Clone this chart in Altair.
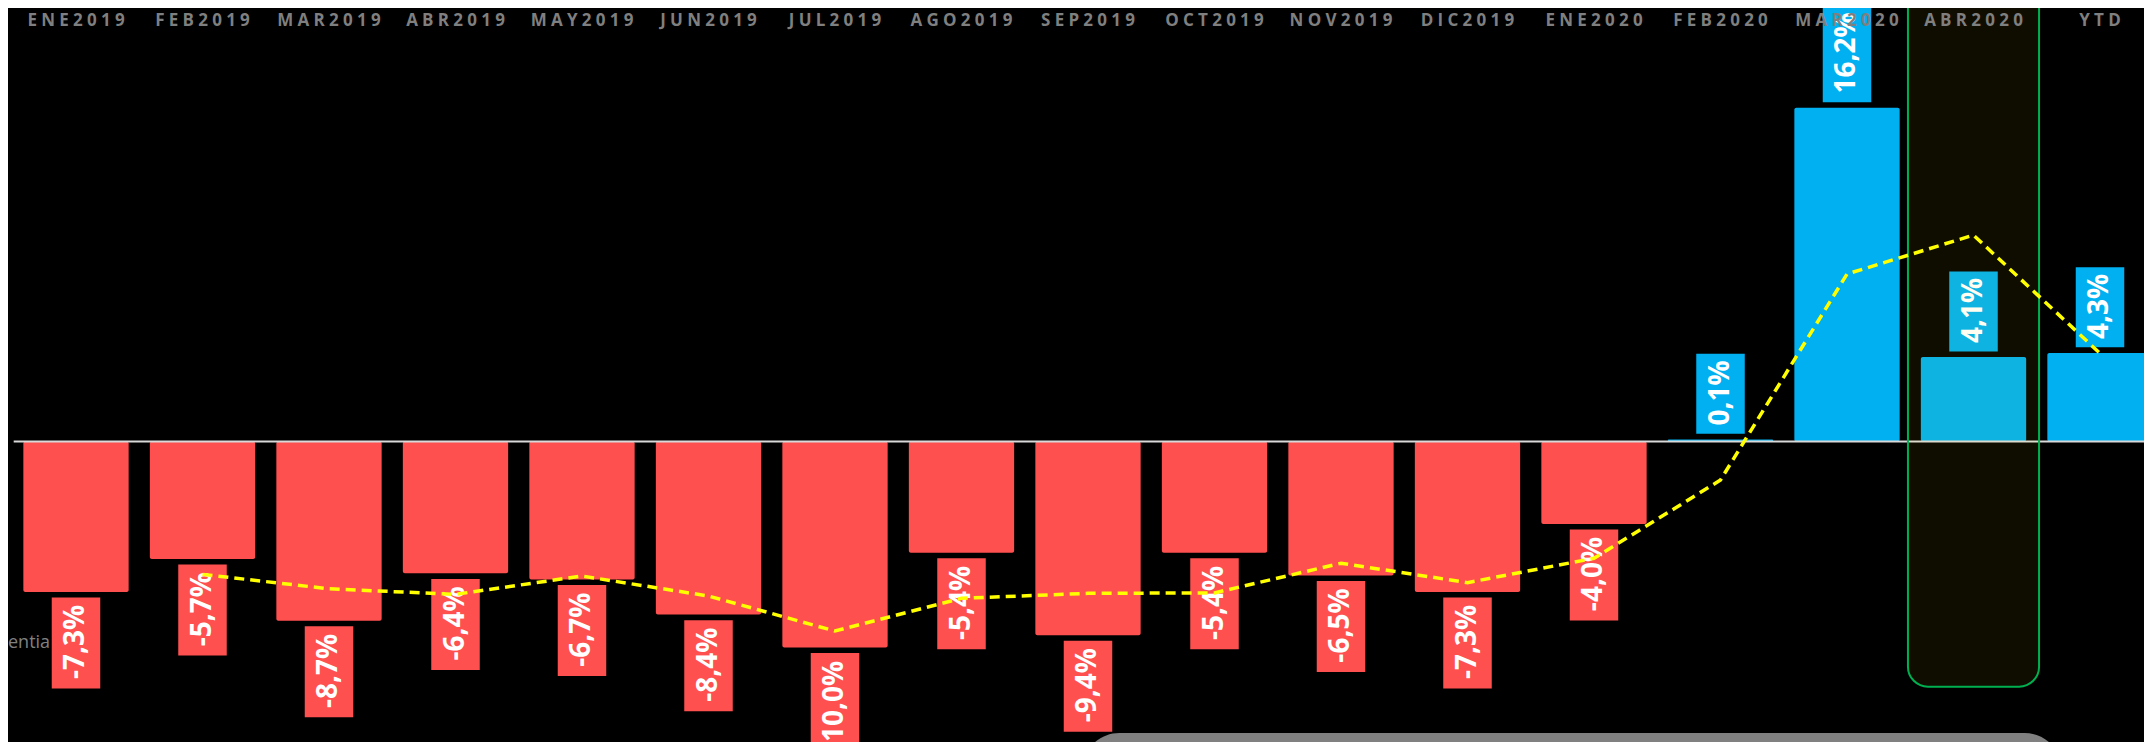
import altair as alt
import pandas as pd

# ---------------- data ----------------
months = ["ENE2019", "FEB2019", "MAR2019", "ABR2019", "MAY2019", "JUN2019",
          "JUL2019", "AGO2019", "SEP2019", "OCT2019", "NOV2019", "DIC2019",
          "ENE2020", "FEB2020", "MAR2020", "ABR2020", "YTD"]
values = [-7.3, -5.7, -8.7, -6.4, -6.7, -8.4, -10.0, -5.4, -9.4, -5.4, -6.5,
          -7.3, -4.0, 0.1, 16.2, 4.1, 4.3]
trend_months = months[1:]
trend_values = [-6.45, -7.15, -7.42, -6.53, -7.5, -9.2, -7.61, -7.37, -7.35,
                -5.91, -6.85, -5.67, -1.87, 8.13, 10.02, 4.28]
highlight_month = ["ABR2020"]
highlight_bottom = [-11.9]
legend_text = ["entia"]

# ---------------- layout ----------------
W, H = 2136, 734
K = 20.6            # pixels per percentage point
ZERO_Y = 433.5      # pixel row of the zero line
Y_MAX = ZERO_Y / K
Y_MIN = -(H - ZERO_Y) / K
GAP = 5.6
CHAR_W = {**{str(d): 16.5 for d in range(10)}, ",": 8, "-": 11, "%": 23}

RED, BLUE = "#ff5050", "#00b0f0"

labels = [f"{v:.1f}".replace(".", ",") + "%" for v in values]
rows = []
for m, v, lab in zip(months, values, labels):
    L = 16 + sum(CHAR_W[c] for c in lab)
    s = 1 if v >= 0 else -1
    rows.append({
        "month": m, "value": v, "label": lab,
        "spaced": "\u2005".join(m),
        "color": BLUE if v >= 0 else RED,
        "box_a": v + s * GAP / K,
        "box_b": v + s * (GAP + L) / K,
        "box_mid": v + s * (GAP + L / 2) / K,
        "zero": 0.0,
    })
df = pd.DataFrame(rows)
trend_df = pd.DataFrame({"month": trend_months, "trend": trend_values})
hl_df = pd.DataFrame({"month": highlight_month, "top": [30.0], "bottom": highlight_bottom})
deco_df = pd.DataFrame({"t": legend_text, "zero": [0.0]})

x_scale = alt.Scale(domain=months, range=[4.75, 2155.25],
                    paddingInner=0.1676, paddingOuter=0.0838)
y_scale = alt.Scale(domain=[Y_MIN, Y_MAX], nice=False, zero=False)
X = alt.X("month:N", scale=x_scale, axis=None)

bars = alt.Chart(df).mark_bar(cornerRadius=2).encode(
    x=X,
    y=alt.Y("value:Q", scale=y_scale, axis=None),
    y2="zero:Q",
    color=alt.Color("color:N", scale=None),
)

zero_rule = alt.Chart(deco_df).mark_rule(color="#d9d9d9", strokeWidth=2).encode(
    y=alt.Y("zero:Q", scale=y_scale, axis=None),
    x=alt.value(5.7), x2=alt.value(W),
)

boxes = alt.Chart(df).mark_bar(width=48.5).encode(
    x=X,
    y=alt.Y("box_a:Q", scale=y_scale, axis=None),
    y2="box_b:Q",
    color=alt.Color("color:N", scale=None),
)

box_text = alt.Chart(df).mark_text(
    angle=270, font="Open Sans", fontWeight="bold", fontSize=28,
    color="white", align="center", baseline="middle", dx=1,
).encode(
    x=X,
    y=alt.Y("box_mid:Q", scale=y_scale, axis=None),
    text="label:N",
)

highlight = alt.Chart(hl_df).mark_bar(
    width=alt.RelativeBandSize(1.245), cornerRadius=20,
    fill="#ffe600", fillOpacity=0.055, stroke="#00b050", strokeWidth=2,
).encode(
    x=X,
    y=alt.Y("top:Q", scale=y_scale, axis=None),
    y2="bottom:Q",
)

trend = alt.Chart(trend_df).mark_line(
    color="#ffff00", strokeWidth=3.5, strokeDash=[10, 6],
).encode(
    x=X,
    y=alt.Y("trend:Q", scale=y_scale, axis=None),
)

month_labels = alt.Chart(df).mark_text(
    font="Open Sans", fontWeight="bold", fontSize=17,
    color="#7f7f7f", align="center", baseline="alphabetic",
).encode(
    x=X,
    y=alt.value(18),
    text="spaced:N",
)

gray_panel = alt.Chart(deco_df).mark_rect(color="#808080", cornerRadius=40).encode(
    x=alt.value(1074), x2=alt.value(2054), y=alt.value(725), y2=alt.value(800),
)

legend_label = alt.Chart(deco_df).mark_text(
    font="Open Sans", fontSize=18, color="#808080", align="left", baseline="alphabetic",
).encode(
    x=alt.value(0), y=alt.value(640), text="t:N",
)

chart = alt.layer(
    bars, zero_rule, boxes, box_text, highlight, trend, month_labels,
    gray_panel, legend_label,
).properties(
    width=W, height=H,
    autosize=alt.AutoSizeParams(type="none"),
    padding=0,
    background="black",
).configure_view(stroke=None)

chart.save("out.html", embed_options={"renderer": "svg", "actions": False})
